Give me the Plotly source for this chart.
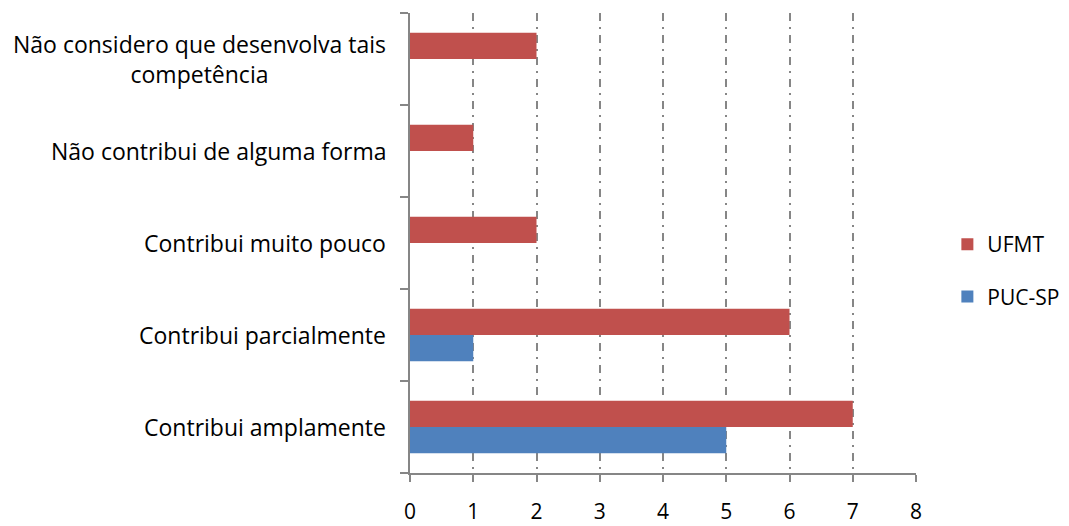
import plotly.graph_objects as go

categories = [
    "Contribui amplamente",
    "Contribui parcialmente",
    "Contribui muito pouco",
    "Não contribui de alguma forma",
    "Não considero que desenvolva tais<br>competência",
]
puc_sp = [5, 1, 0, 0, 0]
ufmt = [7, 6, 2, 1, 2]
x_ticks = [0, 1, 2, 3, 4, 5, 6, 7, 8]

FONT = "Open Sans"
AXIS_GREY = "#868686"

fig = go.Figure()
fig.add_trace(go.Bar(
    y=categories, x=puc_sp, orientation="h", name="PUC-SP",
    marker=dict(color="#4f81bd", line=dict(width=0)),
    legendgroup="b", legendrank=2,
))
fig.add_trace(go.Bar(
    y=categories, x=ufmt, orientation="h", name="UFMT",
    marker=dict(color="#c0504d", line=dict(width=0)),
    legendgroup="a", legendrank=1,
))

# category labels, centred line by line, right edge next to the axis
for cat in categories:
    fig.add_annotation(
        x=0, xref="paper", xanchor="right", xshift=-22,
        y=cat, yref="y", yanchor="middle",
        text=cat, showarrow=False, align="center",
        font=dict(family=FONT, size=23, color="#000000"),
    )

fig.update_layout(
    width=1069, height=526,
    margin=dict(l=410, r=153, t=13, b=53, autoexpand=False),
    paper_bgcolor="white", plot_bgcolor="white",
    barmode="group", bargap=0.43, bargroupgap=0,
    font=dict(family=FONT, size=23, color="#000000"),
    showlegend=True,
    legend=dict(
        x=1.062, xanchor="left", y=0.44, yanchor="middle",
        traceorder="grouped", tracegroupgap=22,
        font=dict(family=FONT, size=21, color="#000000"),
        itemwidth=30,
    ),
    xaxis=dict(
        range=[0, 8], tickvals=x_ticks, ticktext=[str(v) for v in x_ticks],
        showgrid=True, gridcolor=AXIS_GREY, gridwidth=1.5, griddash="8px,6px,2px,6px",
        zeroline=False,
        showline=True, linecolor=AXIS_GREY, linewidth=2,
        ticks="outside", ticklen=7, tickwidth=2, tickcolor=AXIS_GREY,
        ticklabelstandoff=12,
        tickfont=dict(family=FONT, size=21, color="#000000"),
        fixedrange=True,
    ),
    yaxis=dict(
        type="category", categoryorder="array", categoryarray=categories,
        showticklabels=False, showgrid=False, zeroline=False,
        showline=True, linecolor=AXIS_GREY, linewidth=2,
        ticks="outside", tickson="boundaries", ticklen=8, tickwidth=2,
        tickcolor=AXIS_GREY,
        fixedrange=True,
    ),
)

fig.write_html("out.html")
